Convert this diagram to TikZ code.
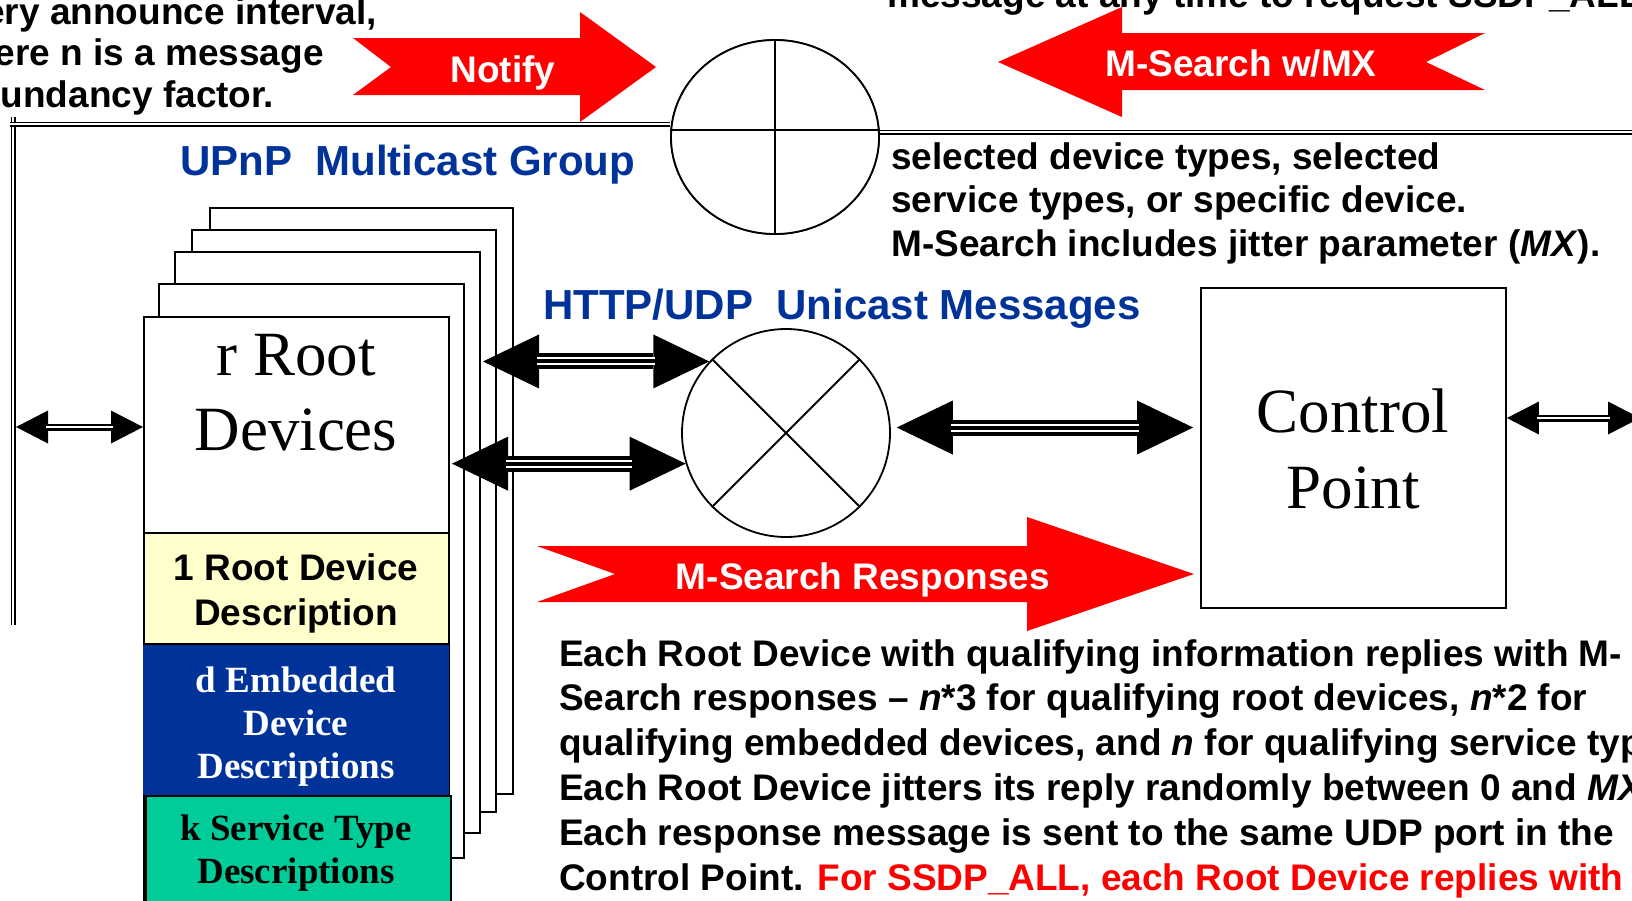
\documentclass[tikz,border=0pt]{standalone}
\usepackage{fontspec}
\setmainfont{Liberation Serif}
\setsansfont{Liberation Sans}
\usetikzlibrary{arrows.meta}
\usetikzlibrary{shapes.geometric}
\usetikzlibrary{positioning}
\definecolor{upnpBlue}{HTML}{003399}
\definecolor{descYellow}{HTML}{FFFFCC}
\definecolor{descGreen}{HTML}{00CC99}
\definecolor{msgRed}{HTML}{FF0000}
\tikzset{
  page/.style={draw, fill=white, line width=1.8pt},
  bus/.style={double, line width=1.6pt, double distance=1.8pt},
  uni/.style={line width=16pt, >={Triangle[length=56pt,width=54pt,line width=0pt]}, <->,
    postaction={draw, white, line width=8pt, -, shorten <=54pt, shorten >=54pt},
    postaction={draw, black, line width=4pt, -, shorten <=54pt, shorten >=54pt}},
  link/.style={line width=7pt, >={Triangle[length=32pt,width=33pt,line width=0pt]}, <->,
    postaction={draw, white, line width=2.5pt, -, shorten <=30pt, shorten >=30pt}},
  banner/.style={text=white, anchor=base, inner sep=0pt,
    font=\sffamily\bfseries\fontsize{37}{44}\selectfont},
  note/.style={align=left, anchor=base west, inner sep=0pt},
  group/.style={text=upnpBlue, anchor=base west, inner sep=0pt,
    font=\sffamily\bfseries\fontsize{42}{50}\selectfont},
  desc/.style={minimum width=305pt, inner sep=0pt},
  desclabel/.style={anchor=base, align=center, inner sep=0pt},
}
\begin{document}
\begin{tikzpicture}[x=1pt,y=-1pt]
  \useasboundingbox (0,0) rectangle (1632,900);
  \clip (0,0) rectangle (1632,900);
  \fill[white] (0,0) rectangle (1632,900);

  % multicast bus
  \node[ellipse, draw, line width=1.8pt, fill=white, minimum width=208pt,
    minimum height=194pt, inner sep=0pt] (mc) at (775,137) {};
  \draw[bus] (13,625) -- (13,117);
  \draw[bus] (10,124) -- ([yshift=13pt]mc.west);
  \draw[bus] ([yshift=5pt]mc.east) -- (1640,132);
  \node[ellipse, draw, line width=1.8pt, fill=white, minimum width=208pt,
    minimum height=194pt, inner sep=0pt] at (mc) {};
  \draw[line width=1.8pt] (mc.north) -- (mc.south);
  \draw[line width=1.8pt] ([yshift=7pt]mc.west) -- ([yshift=7pt]mc.east);

  % big red message arrows
  \fill[msgRed] (353,38) -- (580,38) -- (580,12) -- (656,67) -- (580,122)
    -- (580,95) -- (353,95) -- (391,67) -- cycle;
  \node[banner] (notify) at (503,82) {Notify};
  \fill[msgRed] (998,62) -- (1122,7) -- (1122,33) -- (1485,33) -- (1426,62)
    -- (1485,90) -- (1122,90) -- (1122,117) -- cycle;
  \node[banner] (msearch) at (1241,76) {M-Search w/MX};
  \fill[msgRed] (537,546) -- (1027,546) -- (1027,517) -- (1194,574) -- (1027,631)
    -- (1027,602) -- (537,602) -- (615,574) -- cycle;
  \node[banner] (mresp) at (863,589) {M-Search Responses};

  % stack of root devices
  \foreach \l/\t/\r/\b in {210/208/513/794, 192/230/496/812, 175/252/480/833, 159/284/464/858}
    \draw[page] (\l,\t) rectangle (\r,\b);
  \node[page, minimum width=305pt, minimum height=620pt, anchor=north west,
    inner sep=0pt] (root) at (143,316) {};
  \node[desclabel, font=\fontsize{63}{75}\selectfont] (rootlbl) at (296,450) {r Root\\Devices};
  \node[desc, draw, line width=1.8pt, fill=descYellow, minimum height=111pt,
    anchor=north west] (rdd) at (143,532) {};
  \node[desc, fill=upnpBlue, minimum height=150pt, minimum width=306pt, below=0pt of rdd] (edd) {};
  \node[desc, draw, line width=1.8pt, fill=descGreen, minimum height=130pt,
    below=0pt of edd, xshift=2pt] (std) {};
  \node[desclabel, font=\sffamily\bfseries\fontsize{37}{45}\selectfont] (rddlbl)
    at (296,625) {1 Root Device\\Description};
  \node[desclabel, text=white, font=\bfseries\fontsize{37}{43}\selectfont] (eddlbl)
    at (296,778) {d Embedded\\Device\\Descriptions};
  \node[desclabel, font=\bfseries\fontsize{37}{43}\selectfont] (stdlbl)
    at (296,883) {k Service Type\\Descriptions};

  % unicast switch and control point
  \node[circle, draw, line width=1.8pt, fill=white, minimum size=208pt, inner sep=0pt] (ux) at (786,433) {};
  \draw[line width=1.8pt] (ux.45) -- (ux.225) (ux.135) -- (ux.315);
  \node[draw, line width=1.8pt, minimum width=305pt, minimum height=320pt] (cp) at (1353.5,448) {};
  \node[desclabel, font=\fontsize{63}{76}\selectfont] (cplbl) at (1353,508) {Control\\Point};

  % connections
  \coordinate (pa) at (483,362);
  \coordinate (pb) at (452,463);
  \coordinate (lb) at (16,427);
  \coordinate (rb) at (1640,418);
  \coordinate (cin) at ([xshift=-7pt]cp.west);
  \draw[uni] (pa |- ux.137) -- (ux.137);
  \draw[uni] (pb |- ux.197) -- (ux.197);
  \draw[uni] ([xshift=6pt]ux.3) -- (cin |- ux.3);
  \draw[link] (lb) -- (lb -| root.west);
  \draw[link] (rb -| cp.east) -- (rb);

  % labels and notes
  \node[group] (mcast) at (180,175) {UPnP\ \ Multicast Group};
  \node[group] (ucast) at (543,319) {HTTP/UDP\ \ Unicast Messages};
  \node[note, font=\sffamily\bfseries\fontsize{37}{41.5}\selectfont] (announce) at (-57,107)
    {every announce interval,\\where n is a message\\redundancy factor.};
  \node[note, font=\sffamily\bfseries\fontsize{37}{43.5}\selectfont] (ssdpall) at (887,7)
    {message at any time to request SSDP\_ALL};
  \node[note, font=\sffamily\bfseries\fontsize{37}{43.5}\selectfont] (mxnote) at (891,256)
    {selected device types, selected\\service types, or specific device.\\M-Search includes jitter parameter (\textit{MX}).};
  \node[note, font=\sffamily\bfseries\fontsize{37}{44.8}\selectfont] (reply) at (559,890)
    {Each Root Device with qualifying information replies with M-\\
     Search responses – \textit{n}*3 for qualifying root devices, \textit{n}*2 for\\
     qualifying embedded devices, and \textit{n} for qualifying service types\\
     Each Root Device jitters its reply randomly between 0 and \textit{MX}\\
     Each response message is sent to the same UDP port in the\\
     Control Point. \textcolor{msgRed}{For SSDP\_ALL, each Root Device replies with}};
\end{tikzpicture}
\end{document}
